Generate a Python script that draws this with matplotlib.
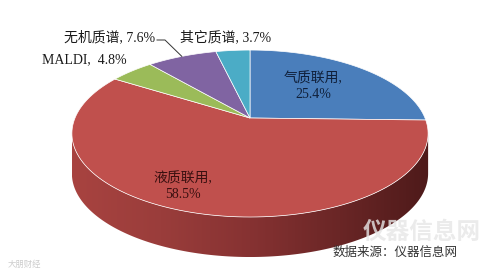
"""3D-style pie: share of mass spectrometry instrument types (Excel look)."""
import numpy as np
import matplotlib
matplotlib.use("Agg")
import matplotlib.pyplot as plt
from matplotlib.patches import Polygon
from matplotlib.colors import LinearSegmentedColormap

plt.rcParams['font.family'] = ['Liberation Serif', 'Noto Sans CJK SC', 'DejaVu Sans']

labels = ["气质联用", "液质联用", "MALDI", "无机质谱", "其它质谱"]
shares = [25.4, 58.5, 4.8, 7.6, 3.7]
colors = ["#4a7ebb", "#c0504d", "#9bbb59", "#8064a2", "#4bacc6"]

# projection of the tilted disc (pixel space)
CX, CY = 250, 118
A, B, K = 175.0, 80.6, 0.186
DEPTH = 40


def proj(t, r=1.0, dz=0.0):
    u = r * np.sin(t)
    v = -r * np.cos(t)
    w = 1 - K * v
    return CX + A * u / w, CY + B * v / w + dz


fig = plt.figure(figsize=(5, 2.75), dpi=100)
ax = fig.add_axes([0, 0, 1, 1])
ax.set_xlim(0, 500)
ax.set_ylim(275, 0)
ax.axis("off")

# side wall (only the front part is visible), shaded left -> right
t_lo, t_hi = np.pi - np.arccos(K), np.pi + np.arccos(K)
ts = np.linspace(t_lo, t_hi, 200)
xs, ys = proj(ts)
side_pts = list(zip(xs, ys)) + list(zip(xs[::-1], ys[::-1] + DEPTH))
side = Polygon(side_pts, closed=True, fc="none", ec="none")
ax.add_patch(side)
side_cmap = LinearSegmentedColormap.from_list(
    "side", ["#a84340", "#9a3d3b", "#863232", "#6a2626", "#4e1a1a"])
grad = np.linspace(0, 1, 256).reshape(1, -1)
im = ax.imshow(grad, cmap=side_cmap, extent=[xs.min(), xs.max(), ys.max() + DEPTH, ys.min()],
               aspect="auto", zorder=1)
im.set_clip_path(side)

# top face
bounds = np.concatenate([[0], np.cumsum(shares)]) / 100 * 2 * np.pi
for i, col in enumerate(colors):
    tt = np.linspace(bounds[i], bounds[i + 1], 120)
    px, py = proj(tt)
    pts = [(CX, CY)] + list(zip(px, py))
    ax.add_patch(Polygon(pts, closed=True, fc=col, ec="white", lw=0.5, zorder=2))

fs = 10
txt = "#1a1a1a"
ax.text(313, 78, "气质联用,", ha="center", va="center", fontsize=fs, color="#10203a", zorder=3)
ax.text(313, 95, f"{shares[0]}%", ha="center", va="center", fontsize=fs, color="#10203a", zorder=3)
ax.text(183, 178, "液质联用,", ha="center", va="center", fontsize=fs, color="#3a1010", zorder=3)
ax.text(183, 195, f"{shares[1]}%", ha="center", va="center", fontsize=fs, color="#3a1010", zorder=3)
ax.text(127, 60, f"{labels[2]},  {shares[2]}%", ha="right", va="center", fontsize=fs, color=txt)
ax.text(155, 37, f"{labels[3]}, {shares[3]}%", ha="right", va="center", fontsize=fs, color=txt)
ax.text(180, 37, f"{labels[4]}, {shares[4]}%", ha="left", va="center", fontsize=fs, color=txt)

# leader line to the small purple slice
mid = (bounds[3] + bounds[4]) / 2
ex, ey = proj(mid)
ax.plot([157, 165, ex], [40, 40, ey], color="#333333", lw=0.7, zorder=3)

# watermark and source note
ax.text(422, 232, "仪器信息网", ha="center", va="center", fontsize=17, color="#e6e6e6",
        family=["Noto Sans CJK SC"], fontweight="bold", alpha=0.8, zorder=4)
ax.text(395, 252, "数据来源：仪器信息网", ha="center", va="center", fontsize=9,
        color="#333333", family=["Noto Sans CJK SC"], zorder=4)
ax.text(8, 264, "大朋财经", ha="left", va="center", fontsize=6, color="#cccccc",
        family=["Noto Sans CJK SC"])

fig.savefig("out.png", dpi=100)
